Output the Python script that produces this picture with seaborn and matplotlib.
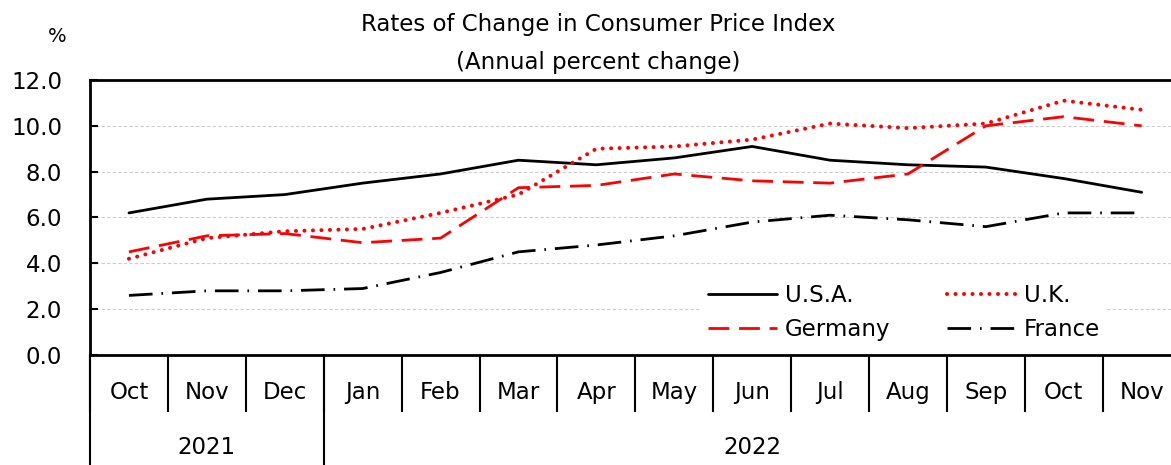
import numpy as np
import pandas as pd
import seaborn as sns
import matplotlib.pyplot as plt

# data (annual % change in CPI)
months = ["Oct", "Nov", "Dec", "Jan", "Feb", "Mar", "Apr", "May",
          "Jun", "Jul", "Aug", "Sep", "Oct", "Nov"]
years = ["2021", "2022"]
year_len = [3, 11]
usa = [6.2, 6.8, 7.0, 7.5, 7.9, 8.5, 8.3, 8.6, 9.1, 8.5, 8.3, 8.2, 7.7, 7.1]
uk = [4.2, 5.1, 5.4, 5.5, 6.2, 7.0, 9.0, 9.1, 9.4, 10.1, 9.9, 10.1, 11.1, 10.7]
germany = [4.5, 5.2, 5.3, 4.9, 5.1, 7.3, 7.4, 7.9, 7.6, 7.5, 7.9, 10.0, 10.4, 10.0]
france = [2.6, 2.8, 2.8, 2.9, 3.6, 4.5, 4.8, 5.2, 5.8, 6.1, 5.9, 5.6, 6.2, 6.2]
yticks = [0, 2, 4, 6, 8, 10, 12]

series = {"U.S.A.": usa, "U.K.": uk, "Germany": germany, "France": france}
names = list(series)
idx = np.arange(len(months))
df = pd.concat([pd.DataFrame({"idx": idx, "value": v, "country": k})
                for k, v in series.items()], ignore_index=True)

sns.set_style("white")
plt.rcParams["font.family"] = ["DejaVu Sans"]
plt.rcParams["text.color"] = "black"
plt.rcParams["xtick.color"] = "black"
plt.rcParams["ytick.color"] = "black"

fig = plt.figure(figsize=(11.71, 4.65), dpi=100)
W, H = 1171, 465
# axes runs a bit past the right edge, as in the reference
ax = fig.add_axes([90 / W, (H - 355) / H, 1090.6 / W, 275 / H])

palette = {"U.S.A.": "black", "U.K.": "#ff0000", "Germany": "#ff0000", "France": "black"}
dashes = {"U.S.A.": "", "U.K.": (0.01, 2.1), "Germany": (7.5, 3.5), "France": (8.5, 3.2, 0.6, 3.2)}
sns.lineplot(data=df, x="idx", y="value", hue="country", style="country",
             hue_order=names, style_order=names,
             palette=palette, dashes=dashes, linewidth=2.0, ax=ax, legend=True)

handles, labels = ax.get_legend_handles_labels()
hmap = dict(zip(labels, handles))
# bigger round dots for the U.K. series (data line and legend handle)
for ln in (ax.lines[names.index("U.K.")], hmap["U.K."]):
    ln.set_dash_capstyle("round")
    ln.set_linewidth(2.9)

ax.set_xlim(-0.5, len(months) - 0.5)
ax.set_ylim(0, 12)
ax.set_xlabel("")
ax.set_ylabel("")

# y axis
ax.set_yticks(yticks)
ax.set_yticklabels([f"{v:.1f}" for v in yticks])
ax.tick_params(axis="y", direction="in", length=6, width=1.5, pad=20, labelsize=16.5, left=True)
for v in yticks[1:-1]:
    ax.axhline(v, color="#cccccc", lw=0.8, ls=(0, (3, 2)), zorder=0)

for s in ax.spines.values():
    s.set_color("black")
    s.set_linewidth(2)

# month labels and separators
ax.set_xticks(idx)
ax.set_xticklabels(months)
ax.set_xticks(np.arange(-0.5, len(months)), minor=True)
ax.tick_params(axis="x", which="major", length=0, pad=18.5, labelsize=16.5)
ax.tick_params(axis="x", which="minor", direction="out", length=41, width=1.5, bottom=True)

# year row
tr = ax.get_xaxis_transform()
start = -0.5
bounds = [start]
for y, n in zip(years, year_len):
    ax.text(start + n / 2, -0.335, y, transform=tr, ha="center", va="center", fontsize=16.5)
    start += n
    bounds.append(start)
for b in bounds:
    ax.plot([b, b], [0, -0.42], transform=tr, color="black", lw=1.5, clip_on=False)

# legend: row 1 U.S.A., U.K.; row 2 Germany, France
order = ["U.S.A.", "Germany", "U.K.", "France"]
leg = ax.legend([hmap[k] for k in order], order, ncol=2, loc="upper left",
                bbox_to_anchor=(690 / W, 1 - 266 / H), bbox_transform=fig.transFigure,
                frameon=True, fancybox=False, framealpha=1, edgecolor="white",
                handlelength=3.0, handletextpad=0.35, columnspacing=2.45,
                labelspacing=0.45, borderpad=0.3, fontsize=16.5)
leg.get_frame().set_linewidth(0)

fig.text(598 / W, 1 - 24 / H, "Rates of Change in Consumer Price Index",
         ha="center", va="center", fontsize=16.5)
fig.text(598 / W, 1 - 62 / H, "(Annual percent change)",
         ha="center", va="center", fontsize=16.5)
fig.text(57 / W, 1 - 36 / H, "%", ha="center", va="center", fontsize=14)

fig.savefig("out.png", dpi=100)
